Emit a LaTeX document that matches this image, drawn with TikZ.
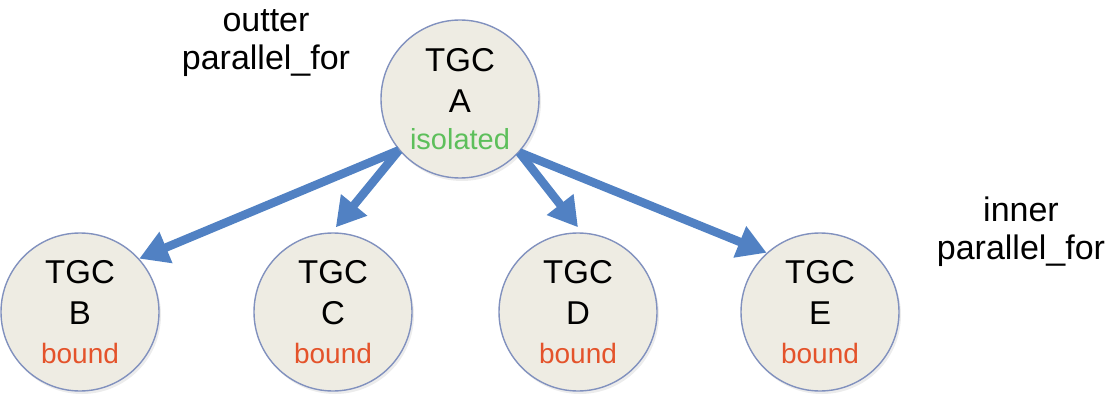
\documentclass[tikz,border=0pt]{standalone}
\usepackage{fontspec}
\setmainfont{Liberation Sans}
\usepackage{tikz}
\usetikzlibrary{arrows.meta,shadows,positioning}
\definecolor{tgcfill}{HTML}{EEECE3}
\definecolor{tgcline}{HTML}{8191BE}
\definecolor{arrowblue}{HTML}{5181C3}
\definecolor{isogreen}{HTML}{5DBF5B}
\definecolor{boundred}{HTML}{E4532B}

\begin{document}
\begin{tikzpicture}[x=1pt,y=-1pt,
    tgc/.style={circle,draw=tgcline,line width=1.4pt,fill=tgcfill,
      minimum size=158pt,inner sep=0pt,align=center,
      font=\fontsize{33}{41}\selectfont,
      drop shadow={opacity=0.15,shadow xshift=2pt,shadow yshift=-3pt}},
    spawn/.style={draw=arrowblue,line width=8.5pt,
      -{Triangle[length=29pt,width=32pt]}},
    looplabel/.style={align=center,font=\fontsize{34}{38}\selectfont}]
  \useasboundingbox (0,0) rectangle (1111,398);
  % thread groups
  \node[tgc] (A) at (460,99) {TGC\\A\\[-4pt]{\fontsize{29}{33}\selectfont\color{isogreen}isolated}};
  \node[tgc] (B) at (80,312) {TGC\\B\\[-2pt]{\fontsize{28}{38}\selectfont\color{boundred}bound}};
  \node[tgc] (C) at (333,312) {TGC\\C\\[-2pt]{\fontsize{28}{38}\selectfont\color{boundred}bound}};
  \node[tgc] (D) at (578,312) {TGC\\D\\[-2pt]{\fontsize{28}{38}\selectfont\color{boundred}bound}};
  \node[tgc] (E) at (820,312) {TGC\\E\\[-2pt]{\fontsize{28}{38}\selectfont\color{boundred}bound}};
  % loop labels
  \node[looplabel] (outer) at (266,43) {outter\\parallel\_for};
  \node[looplabel] (inner) at (1021,232) {inner\\parallel\_for};
  % spawning arrows
  \draw[spawn] (A.220) -- (B.42);
  \draw[spawn] (A.220) -- ([yshift=5pt]C.88);
  \draw[spawn] (A.-42) -- ([yshift=5pt]D.90);
  \draw[spawn] (A.-42) -- (E.132);
\end{tikzpicture}
\end{document}
